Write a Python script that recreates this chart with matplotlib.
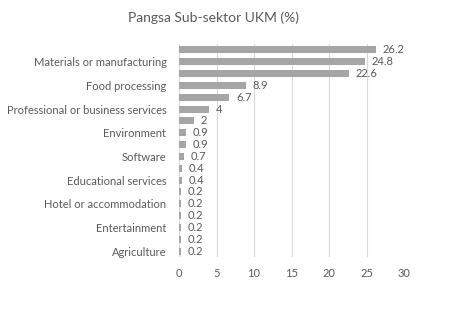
import matplotlib
matplotlib.use("Agg")
import matplotlib.pyplot as plt

categories = ["", "Materials or manufacturing", "", "Food processing", "",
              "Professional or business services", "", "Environment", "",
              "Software", "", "Educational services", "", "Hotel or accommodation",
              "", "Entertainment", "", "Agriculture"]
values = [26.2, 24.8, 22.6, 8.9, 6.7, 4, 2, 0.9, 0.9, 0.7, 0.4, 0.4,
          0.2, 0.2, 0.2, 0.2, 0.2, 0.2]
value_labels = ["26.2", "24.8", "22.6", "8.9", "6.7", "4", "2", "0.9", "0.9",
                "0.7", "0.4", "0.4", "0.2", "0.2", "0.2", "0.2", "0.2", "0.2"]
xticks = [0, 5, 10, 15, 20, 25, 30]
title = "Pangsa Sub-sektor UKM (%)"

plt.rcParams['font.family'] = ['Lato', 'DejaVu Sans']
txt = '#595959'
fs = 8.0

fig = plt.figure(figsize=(4.71, 3.19), dpi=100)
ax = fig.add_axes([179/471, 1-257/319, 225/471, 213/319])
y = list(range(len(values)))
ax.barh(y, values, height=0.6, color='#a5a5a5', zorder=3)
for yi, v, lab in zip(y, values, value_labels):
    ax.text(v + 0.9, yi, lab, va='center', ha='left', fontsize=fs, color=txt)
ax.set_ylim(len(values) - 0.5, -0.5)
ax.set_yticks(y)
ax.set_yticklabels(categories, fontsize=fs, color=txt)
ax.set_xlim(0, 30)
ax.set_xticks(xticks)
ax.set_xticklabels([str(t) for t in xticks], fontsize=fs, color=txt)
ax.tick_params(axis='x', length=0, pad=8)
ax.tick_params(axis='y', length=0, pad=9)
for s in ax.spines.values():
    s.set_visible(False)
ax.grid(axis='x', color='#d9d9d9', linewidth=0.8, zorder=0)
fig.text(213/471, 1 - 18/319, title, ha='center', va='center', fontsize=10, color=txt)
fig.savefig('out.png', dpi=100, facecolor='white')
